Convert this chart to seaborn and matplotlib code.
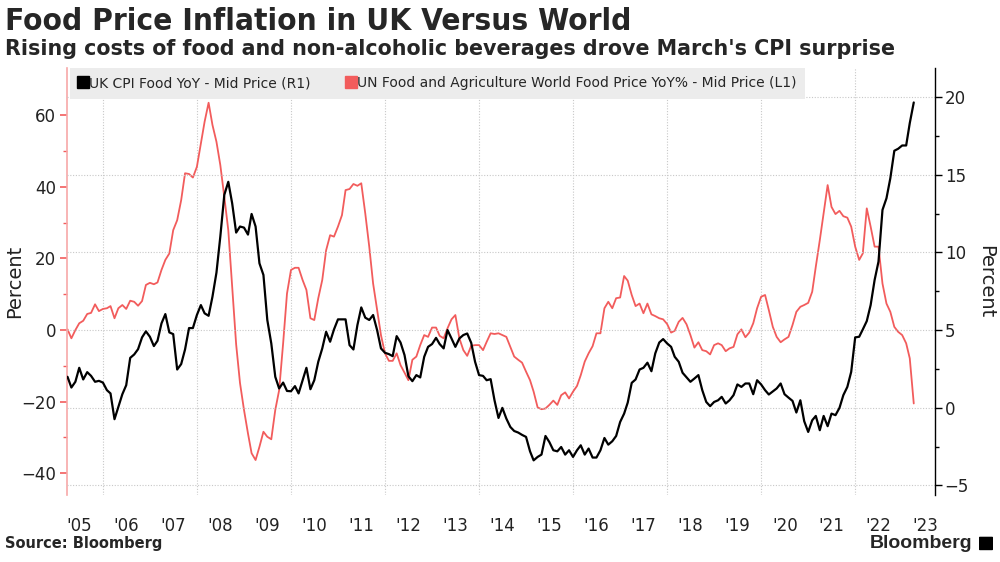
import pandas as pd
import seaborn as sns
import matplotlib.pyplot as plt
from matplotlib.lines import Line2D
from matplotlib.patches import FancyBboxPatch
import warnings
warnings.filterwarnings("ignore")

# monthly series, first value = March 2005 (month-end), last = March 2023
start_month = "2005-03"

# UK CPI Food YoY (%) - right axis
uk_cpi_food = [
    1.99, 1.30, 1.67, 2.57, 1.82, 2.29, 2.05, 1.67, 1.73, 1.62,                  # 2005
    1.13, 0.92, -0.74, 0.05, 0.87, 1.45, 3.21, 3.43, 3.77, 4.53, 4.92, 4.57,      # 2006
    3.97, 4.31, 5.43, 6.03, 4.85, 4.74, 2.46, 2.81, 3.75, 5.13, 5.13, 5.97,      # 2007
    6.61, 6.08, 5.92, 7.15, 8.70, 11.02, 13.71, 14.55, 13.17, 11.28, 11.67, 11.60,  # 2008
    11.15, 12.48, 11.67, 9.30, 8.55, 5.65, 4.14, 1.99, 1.24, 1.62, 1.08, 1.06,   # 2009
    1.39, 0.92, 1.77, 2.57, 1.19, 1.77, 2.96, 3.82, 4.89, 4.25, 5.04, 5.69,      # 2010
    5.69, 5.69, 4.03, 3.75, 5.32, 6.46, 5.80, 5.65, 5.97, 5.00, 3.82, 3.54,      # 2011
    3.45, 3.32, 4.61, 4.20, 3.39, 2.03, 1.71, 2.10, 1.95, 3.28, 3.92, 4.10,      # 2012
    4.50, 4.10, 3.82, 5.00, 4.46, 3.92, 4.46, 4.68, 4.78, 4.18, 2.96, 2.10,      # 2013
    2.05, 1.77, 1.84, 0.48, -0.66, -0.01, -0.70, -1.24, -1.50, -1.60, -1.75, -1.88,  # 2014
    -2.81, -3.39, -3.17, -3.02, -1.82, -2.21, -2.74, -2.81, -2.53, -3.02, -2.74, -3.17,  # 2015
    -2.74, -2.42, -3.02, -2.63, -3.21, -3.21, -2.74, -1.95, -2.38, -2.16, -1.82, -0.92,  # 2016
    -0.38, 0.33, 1.60, 1.82, 2.46, 2.57, 2.90, 2.35, 3.50, 4.20, 4.42, 4.14,     # 2017
    3.92, 3.28, 2.96, 2.25, 1.95, 1.67, 1.88, 2.10, 1.13, 0.37, 0.10, 0.37,      # 2018
    0.48, 0.70, 0.27, 0.48, 0.81, 1.50, 1.34, 1.56, 1.56, 0.87, 1.77, 1.50,      # 2019
    1.13, 0.85, 1.05, 1.24, 1.56, 0.87, 0.65, 0.44, -0.31, 0.48, -0.87, -1.56,   # 2020
    -0.81, -0.53, -1.45, -0.53, -1.19, -0.38, -0.48, -0.01, 0.81, 1.34, 2.31, 4.53,  # 2021
    4.57, 5.04, 5.58, 6.61, 8.23, 9.41, 12.74, 13.49, 14.78, 16.55, 16.68, 16.89,  # 2022
    16.89, 18.33, 19.66,                                                          # 2023
]

# UN FAO World Food Price YoY (%) - left axis
fao_food = [
    0.2, -2.3, 0.0, 1.9, 2.6, 4.5, 4.8, 7.2, 5.3, 5.9,                           # 2005
    6.1, 6.7, 3.3, 6.1, 7.0, 5.9, 8.2, 7.9, 6.8, 8.1, 12.6, 13.2,                # 2006
    12.8, 13.3, 16.8, 19.6, 21.4, 27.9, 30.7, 36.3, 43.8, 43.6, 42.6, 45.6,      # 2007
    52.1, 58.2, 63.5, 57.3, 52.6, 46.1, 37.2, 27.9, 12.0, -4.0, -14.8, -22.3,    # 2008
    -28.9, -34.4, -36.3, -32.6, -28.4, -29.8, -30.5, -22.3, -16.8, -3.7, 10.2, 16.8,  # 2009
    17.4, 17.4, 14.0, 11.2, 3.3, 2.8, 8.9, 14.0, 22.3, 26.5, 26.1, 28.9,         # 2010
    32.1, 39.1, 39.4, 40.8, 40.3, 41.0, 32.6, 23.3, 13.0, 5.6, -1.4, -6.5,       # 2011
    -8.6, -8.6, -6.5, -9.8, -11.9, -14.0, -8.3, -7.4, -4.2, -1.4, -1.9, 0.7,     # 2012
    0.7, -1.6, -2.3, 0.5, 3.0, 4.2, -2.3, -5.6, -7.2, -4.4, -4.2, -4.2,          # 2013
    -5.6, -3.3, -0.9, -1.1, -0.9, -1.4, -1.9, -4.7, -7.4, -8.3, -9.1, -11.6,     # 2014
    -14.0, -17.2, -21.6, -22.1, -21.9, -20.9, -19.7, -20.9, -18.2, -17.4, -19.1, -17.2,  # 2015
    -15.6, -12.6, -8.8, -6.5, -4.5, -0.9, -0.9, 6.1, 7.9, 6.1, 8.9, 9.1,         # 2016
    15.1, 13.8, 9.8, 6.7, 7.4, 4.7, 7.4, 4.4, 3.9, 3.3, 3.0, 1.7,                # 2017
    -0.7, -0.2, 2.3, 3.4, 1.6, -1.4, -4.9, -3.4, -5.6, -5.9, -6.8, -4.2,         # 2018
    -3.7, -4.2, -5.9, -5.1, -4.7, -1.2, 0.2, -2.0, -0.7, 1.9, 6.1, 9.3,          # 2019
    9.8, 5.6, 0.9, -1.9, -3.4, -2.6, -1.9, 1.4, 5.1, 6.5, 7.0, 7.6,              # 2020
    10.7, 17.7, 25.1, 32.6, 40.5, 34.4, 32.4, 33.3, 31.8, 31.4, 28.9, 23.3,      # 2021
    19.6, 21.4, 34.0, 28.9, 23.3, 23.3, 13.0, 7.4, 5.1, 0.9, -0.5, -1.4,         # 2022
    -3.7, -7.9, -20.5,                                                            # 2023
]

year_labels = ["'05", "'06", "'07", "'08", "'09", "'10", "'11", "'12", "'13", "'14",
               "'15", "'16", "'17", "'18", "'19", "'20", "'21", "'22", "'23"]
left_ticks = [-40, -20, 0, 20, 40, 60]
right_ticks = [-5, 0, 5, 10, 15, 20]

RED = "#f25c5c"
GRID = "#c8c8c8"
TXT = "#222222"

# month-end dates
dates = pd.date_range(pd.Timestamp(start_month) + pd.offsets.MonthBegin(1),
                      periods=len(uk_cpi_food), freq="MS") - pd.Timedelta(days=1)
df = pd.DataFrame({"date": dates, "uk": uk_cpi_food, "fao": fao_food})

sns.set_theme(style="white")
plt.rcParams["font.family"] = ["DejaVu Sans"]

fig = plt.figure(figsize=(10, 5.62), dpi=100)
ax = fig.add_axes([0.067, 0.119, 0.868, 0.760])
ax2 = ax.twinx()

sns.lineplot(data=df, x="date", y="fao", ax=ax, color=RED, linewidth=1.3)
sns.lineplot(data=df, x="date", y="uk", ax=ax2, color="black", linewidth=1.6)

# limits
ax.set_xlim(pd.Timestamp("2005-03-27"), pd.Timestamp("2023-09-12"))
ax.set_ylim(-46.1, 73.2)
ax2.set_ylim(-5.63, 21.88)

# x axis: labels mid-year, grid at even years
label_pos = [pd.Timestamp(f"{2005 + i}-07-02") for i in range(len(year_labels))]
ax.set_xticks(label_pos)
ax.set_xticklabels(year_labels)
ax.set_xticks([pd.Timestamp(f"{y}-01-01") for y in range(2006, 2023, 2)], minor=True)
ax.tick_params(axis="x", which="both", length=0, labelsize=12, pad=16, colors=TXT)
ax.grid(which="minor", axis="x", color=GRID, linestyle=(0, (1, 1.5)), linewidth=0.8)
ax.grid(which="major", axis="x", visible=False)

# left axis (FAO)
ax.set_yticks(left_ticks)
ax.set_yticks([-30, -10, 10, 30, 50], minor=True)
ax.tick_params(axis="y", which="major", length=5, width=1.2, color=RED,
               labelsize=12, labelcolor=TXT, pad=3, left=True)
ax.tick_params(axis="y", which="minor", length=3, width=1, color=RED, left=True)
ax.grid(which="both", axis="y", visible=False)
ax.set_ylabel("Percent", fontsize=14, color=TXT, va="center")
ax.yaxis.set_label_coords(-0.060, 0.5)
ax.set_xlabel("")

# right axis (UK CPI)
ax2.set_yticks(right_ticks)
ax2.set_yticks([-2.5, 2.5, 7.5, 12.5, 17.5], minor=True)
ax2.tick_params(axis="y", which="major", length=5, width=1, color="black",
                labelsize=12, labelcolor=TXT, pad=2, right=True)
ax2.tick_params(axis="y", which="minor", length=3, width=1, color="black", right=True)
ax2.grid(which="major", axis="y", color=GRID, linestyle=(0, (1, 1.5)), linewidth=0.8)
ax2.set_ylabel("Percent", fontsize=14, rotation=270, va="center", color=TXT)
ax2.yaxis.set_label_coords(1.058, 0.5)

for a in (ax, ax2):
    a.spines["top"].set_visible(False)
    a.spines["bottom"].set_visible(False)
ax.spines["right"].set_visible(False)
ax2.spines["left"].set_visible(False)
ax.spines["left"].set_color("#f7a8a8")
ax.spines["left"].set_linewidth(1.2)
ax2.spines["right"].set_color("black")
ax2.spines["right"].set_linewidth(1.0)

# legend
handles = [Line2D([], [], marker="s", color="black", linestyle="none", markersize=8),
           Line2D([], [], marker="s", color=RED, linestyle="none", markersize=8)]
labels = ["UK CPI Food YoY - Mid Price (R1)",
          "UN Food and Agriculture World Food Price YoY% - Mid Price (L1)"]
leg = ax2.legend(handles, labels, loc="upper left", bbox_to_anchor=(0.004, 1.0), ncol=2,
                 frameon=True, fancybox=False, fontsize=10, handlelength=0.6,
                 handletextpad=0.15, columnspacing=2.6, borderpad=0.6,
                 borderaxespad=0.0)
leg.get_frame().set_facecolor("#ececec")
leg.get_frame().set_edgecolor("none")
leg.get_frame().set_alpha(1)

# titles and footer
fig.text(0.005, 0.988, "Food Price Inflation in UK Versus World", fontsize=22.6,
         fontweight="bold", fontstretch="condensed", va="top", ha="left")
fig.text(0.005, 0.93, "Rising costs of food and non-alcoholic beverages drove March's CPI surprise",
         fontsize=14.9, fontweight="bold", va="top", ha="left")
fig.text(0.005, 0.02, "Source: Bloomberg", fontsize=10.5, fontweight="bold", va="bottom", ha="left")
fig.text(0.972, 0.018, "Bloomberg", fontsize=14, fontweight="bold", va="bottom", ha="right",
         family=["Liberation Sans", "DejaVu Sans"])
fig.add_artist(FancyBboxPatch((0.980, 0.022), 0.012, 0.022, boxstyle="round,pad=0.001",
                              transform=fig.transFigure, facecolor="black", edgecolor="none"))

fig.savefig("out.png", dpi=100)
